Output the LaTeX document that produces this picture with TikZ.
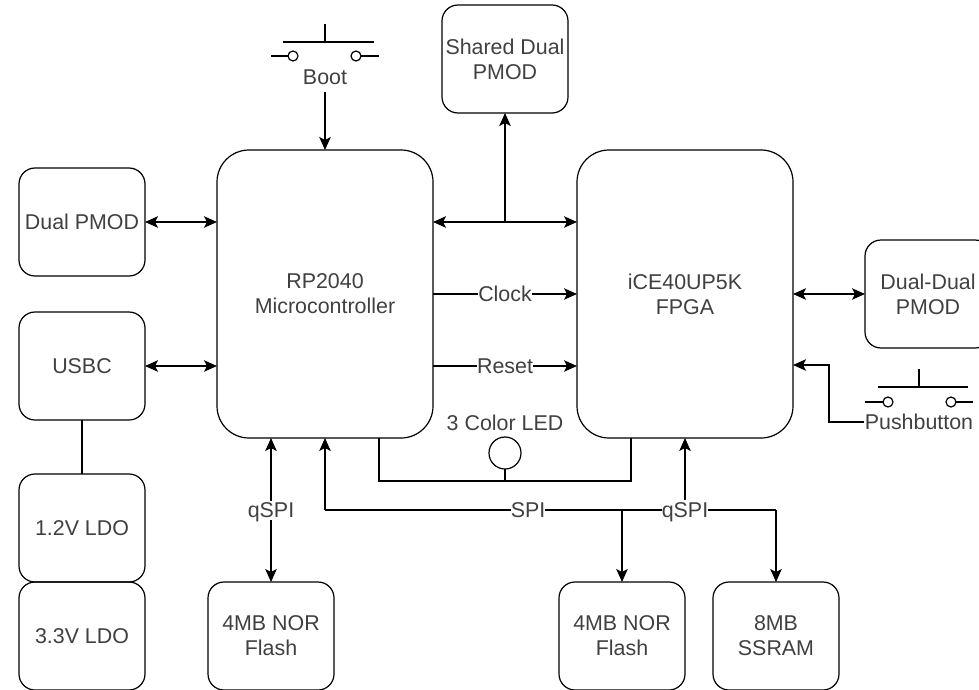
\documentclass[tikz,border=0pt]{standalone}
\usepackage{fontspec}
\setmainfont{Liberation Sans}
\usepackage{tikz}
\usetikzlibrary{arrows.meta,positioning}

\begin{document}
\begin{tikzpicture}[
    x=1pt, y=1pt,
    font=\fontsize{21.4pt}{25pt}\selectfont,
    text=black!75,
    line width=1.2pt,
    >={Stealth[length=13pt,width=11.5pt,inset=3pt]},
    smallbox/.style={draw, rounded corners=16pt, minimum width=126pt, minimum height=108pt, inner sep=0pt, outer sep=0pt, align=center},
    bigbox/.style={draw, rounded corners=32pt, minimum width=216pt, minimum height=288pt, inner sep=0pt, outer sep=0pt, align=center},
    linelabel/.style={fill=white, inner xsep=0pt, inner ysep=0pt, text height=17pt, text depth=2pt},
    contact/.style={circle, draw, minimum size=10pt, inner sep=0pt, outer sep=0pt},
    lamp/.style={circle, draw, minimum size=32pt, inner sep=0pt, outer sep=0pt},
    plain/.style={inner sep=0pt}
]
\useasboundingbox (0,0) rectangle (979,-690);

% main blocks
\node[bigbox] (mcu) at (325,-294) {RP2040\\Microcontroller};
\node[bigbox] (fpga) [right=144pt of mcu] {iCE40UP5K\\FPGA};
\node[smallbox] (shared) at (505,-59) {Shared Dual\\PMOD};
\node[smallbox] (dualpmod) at (82,-222) {Dual PMOD};
\node[smallbox] (usbc) [below=36pt of dualpmod] {USBC};
\node[smallbox] (ldoa) [below=54pt of usbc] {1.2V LDO};
\node[smallbox] (ldob) [below=0pt of ldoa] {3.3V LDO};
\node[smallbox] (flasha) at (271,-636) {4MB NOR\\Flash};
\node[smallbox] (flashb) at (622,-636) {4MB NOR\\Flash};
\node[smallbox] (sram) [right=28pt of flashb] {8MB\\SSRAM};
\node[smallbox] (dualdual) [right=72pt of fpga] {Dual-Dual\\PMOD};

% boot button
\node[plain] (boot) at (325,-77) {Boot};
\coordinate (bootstem) at (325,-24);
\coordinate (bootbar) at (325,-42);
\node[contact] (bootl) at (293,-56) {};
\node[contact] (bootr) at (356,-56) {};
\coordinate (bootla) at (271,-56);
\coordinate (bootra) at (379,-56);
\draw (bootstem) -- (bootbar);
\draw ([xshift=-42pt]bootbar) -- ([xshift=49pt]bootbar);
\draw (bootla) -- (bootl);
\draw (bootr) -- (bootra);

% pushbutton
\node[plain] (push) at (919,-422) {Pushbutton};
\coordinate (pushstem) at (919,-369);
\coordinate (pushbar) at (919,-387);
\node[contact] (pushl) at (888,-402) {};
\node[contact] (pushr) at (951,-402) {};
\coordinate (pushla) at (865,-402);
\coordinate (pushra) at (973,-402);
\draw (pushstem) -- (pushbar);
\draw ([xshift=-41pt]pushbar) -- ([xshift=49pt]pushbar);
\draw (pushla) -- (pushl);
\draw (pushr) -- (pushra);

% led
\node[lamp] (led) at (505,-453) {};
\node[plain] (ledtext) [above=30pt of led.center, anchor=center] {3 Color LED};
\coordinate (ledbus) at (505,-481);
\coordinate (busl) at (379,-481);
\coordinate (busr) at (631,-481);
\draw (led) -- (ledbus);
\draw (busl |- mcu.south) -- (busl) -- (busr) -- (busr |- fpga.south);

% spi bus
\coordinate (spil) at (325,-510);
\coordinate (spib) at (622,-510);
\coordinate (spir) at (776,-510);
\draw[->] (spil) -- (mcu.south);
\draw (spil) -- (spir);
\draw[->] (spib) -- (flashb.north);
\draw[->] (spir) -- (sram.north);
\node[linelabel] (spitext) at (528,-510) {SPI};
\node[linelabel] (qspib) at (685,-510) {qSPI};
\draw[->] (qspib.north) -- (qspib.north |- fpga.south);

% links
\draw[<->] (dualpmod.east) -- (dualpmod.east -| mcu.west);
\draw[<->] (usbc.east) -- (usbc.east -| mcu.west);
\draw (usbc) -- (ldoa);
\coordinate (sharedtap) at (505,-222);
\draw[<->] (sharedtap -| mcu.east) -- (sharedtap -| fpga.west);
\draw[->] (sharedtap) -- (shared.south);
\draw[->] (mcu.east) -- node[linelabel] (clock) {Clock} (fpga.west);
\draw[->] (usbc.east -| mcu.east) -- node[linelabel] (reset) {Reset} (usbc.east -| fpga.west);
\draw[<->] (fpga.east) -- (dualdual.west);
\coordinate (boottail) at (325,-92);
\draw[->] (boottail) -- (mcu.north);
\coordinate (pushbend) at (829,-365);
\draw[->] (push.west) -| (pushbend) -- (pushbend -| fpga.east);
\draw[<->] (flasha.north) -- node[linelabel] (qspia) {qSPI} (flasha.north |- mcu.south);
\end{tikzpicture}
\end{document}
